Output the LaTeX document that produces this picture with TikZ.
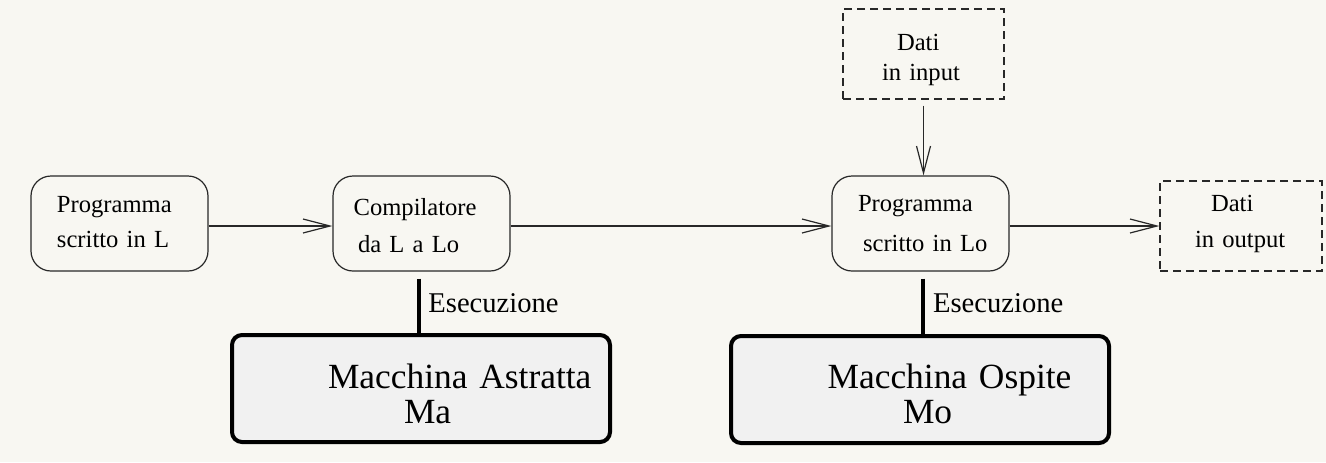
\documentclass[tikz,border=0pt]{standalone}
\usepackage{fontspec}
\setmainfont{Liberation Serif}
\usetikzlibrary{arrows.meta}
\definecolor{bg}{RGB}{248,247,242}
\definecolor{machfill}{RGB}{241,241,241}
\definecolor{ink}{RGB}{40,40,40}
\tikzset{
  prog/.style={draw=ink, line width=0.6pt, rounded corners=10pt, inner sep=0pt, align=left},
  data/.style={draw=ink, line width=0.6pt, dash pattern=on 4pt off 2.5pt, inner sep=0pt, align=left},
  mach/.style={draw=black, line width=2pt, rounded corners=5pt, fill=machfill, inner sep=0pt, align=left,
    text width=189pt, font=\fontsize{17.7}{17.5}\selectfont},
  flow/.style={draw=ink, line width=0.6pt, -{Straight Barb[length=13.5pt,width=7pt]}},
  execline/.style={draw=black, line width=2.2pt},
  execlabel/.style={font=\fontsize{14.3}{17}\selectfont, anchor=base west, inner sep=0pt},
}
\begin{document}
\begin{tikzpicture}[x=0.5pt,y=-0.5pt]
\fill[bg] (0,0) rectangle (1326,462);
\useasboundingbox (0,0) rectangle (1326,462);

\node[prog, text width=88.5pt, text height=18pt, text depth=29.5pt, font=\fontsize{12.3}{17.5}\selectfont]
  (A) at (119.5,223.5) {\hspace*{13pt}Programma\\\hspace*{13pt}scritto in L};
\node[prog, text width=88.5pt, text height=19.5pt, text depth=28pt, font=\fontsize{12.3}{18.5}\selectfont]
  (B) at (421.5,223.5) {\hspace*{10.3pt}Compilatore\\\hspace*{12.5pt}da L a Lo};
\node[prog, text width=88.5pt, text height=17.5pt, text depth=30pt, font=\fontsize{12.3}{20}\selectfont]
  (C) at (920.5,223.5) {\hspace*{13pt}Programma\\\hspace*{15.5pt}scritto in Lo};
\node[data, text width=80.5pt, text height=20.5pt, text depth=24.5pt, font=\fontsize{12.3}{15}\selectfont]
  (D) at (923.5,54) {\hspace*{27pt}Dati\\\hspace*{19.5pt}in input};
\node[data, text width=81pt, text height=15pt, text depth=30pt, font=\fontsize{12.3}{18}\selectfont]
  (E) at (1241,226) {\hspace*{25.5pt}Dati\\\hspace*{17.5pt}in output};

\node[mach, text height=26.5pt, text depth=27pt]
  (F) at (421,388.5) {\hspace*{48pt}Macchina Astratta\\\hspace*{86pt}Ma};
\node[mach, text height=26pt, text depth=27.5pt]
  (G) at (920,389.5) {\hspace*{48.3pt}Macchina Ospite\\\hspace*{86pt}Mo};

\draw[flow] ([yshift=-1.25pt]A.east) -- ([yshift=-1.25pt]B.west);
\draw[flow] ([yshift=-1.25pt]B.east) -- ([yshift=-1.25pt]C.west);
\draw[flow] ([yshift=-1.25pt]C.east) -- (E.west);
\draw[flow] ([yshift=-3pt]D.south) -- (D.south |- C.north);

\draw[execline] ([xshift=-1.25pt,yshift=-3.5pt]B.south) -- ([xshift=-1.25pt]B.south |- F.north);
\draw[execline] ([xshift=1.1pt,yshift=-3.5pt]C.south) -- ([xshift=1.1pt]C.south |- G.north);
\node[execlabel] (e1) at (428,312) {Esecuzione};
\node[execlabel] (e2) at (932.7,312) {Esecuzione};
\end{tikzpicture}
\end{document}
